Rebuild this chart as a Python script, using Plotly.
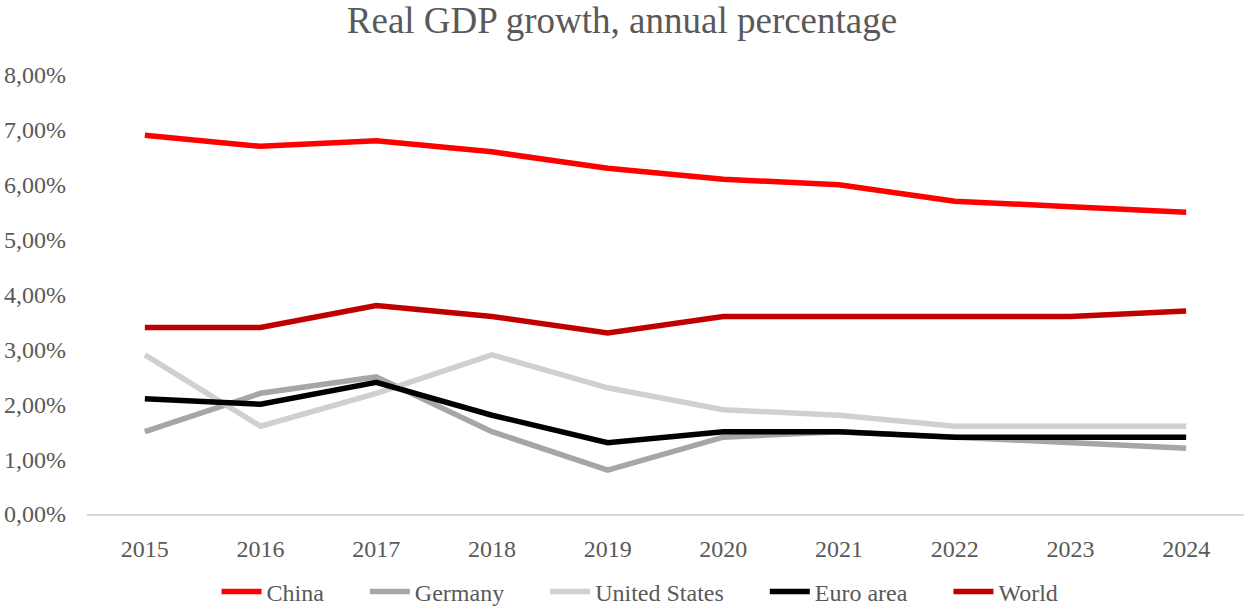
import plotly.graph_objects as go

years = ["2015", "2016", "2017", "2018", "2019", "2020", "2021", "2022", "2023", "2024"]
china = [6.9, 6.7, 6.8, 6.6, 6.3, 6.1, 6.0, 5.7, 5.6, 5.5]
germany = [1.5, 2.2, 2.5, 1.5, 0.8, 1.4, 1.5, 1.4, 1.3, 1.2]
united_states = [2.9, 1.6, 2.2, 2.9, 2.3, 1.9, 1.8, 1.6, 1.6, 1.6]
euro_area = [2.1, 2.0, 2.4, 1.8, 1.3, 1.5, 1.5, 1.4, 1.4, 1.4]
world = [3.4, 3.4, 3.8, 3.6, 3.3, 3.6, 3.6, 3.6, 3.6, 3.7]
y_ticks = [0, 1, 2, 3, 4, 5, 6, 7, 8]
y_tick_labels = [f"{v:.2f}".replace(".", ",") + "%" for v in y_ticks]

series = [
    ("China", china, "#ff0000"),
    ("Germany", germany, "#a6a6a6"),
    ("United States", united_states, "#d0d0d0"),
    ("Euro area", euro_area, "#000000"),
    ("World", world, "#c00000"),
]

pad = "&nbsp;" * 6
fig = go.Figure()
for i, (name, vals, color) in enumerate(series):
    label = name if i == len(series) - 1 else name + pad
    fig.add_trace(go.Scatter(x=years, y=vals, name=label, mode="lines",
                             line=dict(color=color, width=5.5)))

font = "Liberation Serif, Times New Roman, serif"
fig.update_layout(
    width=1244, height=607,
    margin=dict(l=87, r=0, t=75, b=93),
    paper_bgcolor="white", plot_bgcolor="white",
    font=dict(family=font, size=24, color="#595959"),
    title=dict(text="Real GDP growth, annual percentage", x=0.5, xanchor="center",
               y=0.967, yanchor="middle", yref="container",
               font=dict(family=font, size=37, color="#595959")),
    showlegend=True,
    legend=dict(orientation="h", x=0.5145, xanchor="center", xref="container",
                y=0.025, yanchor="middle", yref="container",
                font=dict(family=font, size=24, color="#595959"),
                itemwidth=40, tracegroupgap=0),
    xaxis=dict(type="category", range=[-0.5, 9.5], showgrid=False,
               showline=True, linecolor="#d9d9d9", linewidth=1.5,
               ticks="", ticklabelstandoff=12, zeroline=False,
               tickfont=dict(family=font, size=24, color="#595959")),
    yaxis=dict(range=[0, 8], tickvals=y_ticks, ticktext=y_tick_labels,
               showgrid=False, zeroline=False, showline=False,
               ticklabelstandoff=20,
               tickfont=dict(family=font, size=24, color="#595959")),
)

fig.write_html("out.html")
